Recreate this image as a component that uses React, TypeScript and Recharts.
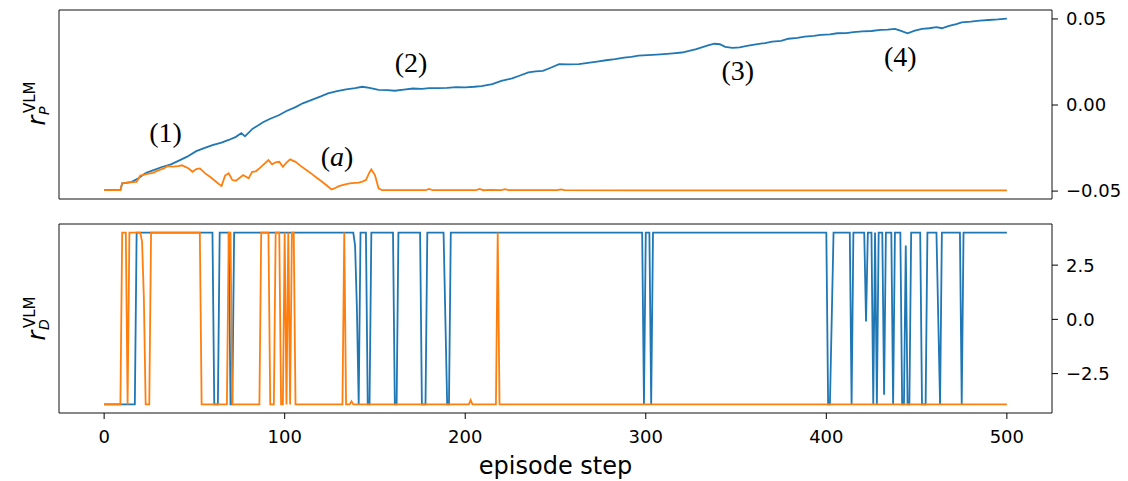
import React from 'react';
import { LineChart, Line, XAxis, YAxis, ReferenceArea, ReferenceDot } from 'recharts';

const BLUE = '#1f77b4';
const ORANGE = '#ff7f0e';
const FONT = 'DejaVu Sans';

// top panel, r_P^VLM against episode step
const rpBlue: [number, number][] = [
  [0, -0.0495], [5, -0.0495], [9, -0.0495], [10, -0.0455], [15, -0.0448], [19, -0.0425],
  [23, -0.0395], [27, -0.038], [32, -0.036], [37, -0.0345], [42, -0.032], [46, -0.03],
  [51, -0.0268], [55, -0.0252], [60, -0.0233], [65, -0.0218], [69, -0.0203], [73, -0.0185],
  [76, -0.0163], [78, -0.0182], [82, -0.014], [88, -0.01], [92, -0.008], [97, -0.0058],
  [101, -0.0035], [106, -0.0012], [110, 0.001], [115, 0.003], [120, 0.005], [124, 0.0068],
  [129, 0.008], [134, 0.0091], [139, 0.0098], [143, 0.0106], [147, 0.01], [152, 0.0088],
  [157, 0.0086], [161, 0.0083], [166, 0.009], [171, 0.0096], [176, 0.0094], [180, 0.0098],
  [185, 0.0098], [190, 0.01], [195, 0.0104], [200, 0.0103], [205, 0.0106], [209, 0.011],
  [212, 0.0116], [215, 0.0122], [220, 0.014], [226, 0.0155], [230, 0.017], [235, 0.019],
  [239, 0.0195], [243, 0.0198], [247, 0.0215], [252, 0.0237], [257, 0.0236], [263, 0.0238],
  [268, 0.0245], [273, 0.0252], [278, 0.026], [283, 0.0266], [288, 0.0275], [292, 0.028],
  [296, 0.0287], [301, 0.029], [306, 0.0293], [310, 0.0296], [315, 0.03], [320, 0.0305],
  [324, 0.0314], [328, 0.0325], [331, 0.0335], [334, 0.0345], [338, 0.0356], [341, 0.0353],
  [344, 0.0338], [348, 0.0332], [352, 0.0335], [356, 0.0343], [361, 0.0352], [366, 0.036],
  [370, 0.0368], [375, 0.0372], [379, 0.0385], [384, 0.039], [388, 0.0397], [393, 0.0402],
  [397, 0.0408], [402, 0.041], [406, 0.0417], [411, 0.0418], [415, 0.0423], [420, 0.0428],
  [425, 0.043], [430, 0.0436], [434, 0.0438], [438, 0.0442], [441, 0.0432], [445, 0.0417],
  [449, 0.0432], [453, 0.0442], [457, 0.0446], [461, 0.0452], [464, 0.0446], [468, 0.046],
  [472, 0.047], [475, 0.048], [480, 0.0484], [485, 0.049], [490, 0.0494], [495, 0.0497],
  [500, 0.0502],
];

const rpOrange: [number, number][] = [
  [0, -0.0495], [9, -0.0495], [10, -0.0455], [14, -0.045], [18, -0.0446], [20, -0.041],
  [24, -0.04], [27, -0.0394], [30, -0.038], [33, -0.0368], [35, -0.0355], [38, -0.0358],
  [41, -0.0355], [43, -0.035], [45, -0.0359], [47, -0.037], [49, -0.0388], [51, -0.0372],
  [53, -0.0368], [56, -0.0397], [59, -0.042], [62, -0.0446], [65, -0.0471], [67, -0.041],
  [69, -0.0397], [71, -0.0436], [73, -0.044], [77, -0.0407], [80, -0.0426], [82, -0.0388],
  [84, -0.0385], [86, -0.0368], [89, -0.0339], [91, -0.032], [93, -0.0345], [95, -0.0333],
  [97, -0.033], [99, -0.0359], [101, -0.0335], [103, -0.0316], [106, -0.033], [109, -0.0355],
  [112, -0.0378], [115, -0.04], [117, -0.0417], [120, -0.044], [123, -0.0465], [126, -0.049],
  [128, -0.0482], [130, -0.0471], [133, -0.0462], [136, -0.0455], [139, -0.0452], [141, -0.0451],
  [143, -0.0445], [145, -0.0436], [147, -0.039], [148, -0.0374], [150, -0.0407], [152, -0.0484],
  [154, -0.0495], [178, -0.0495], [180, -0.0487], [182, -0.0495], [206, -0.0495], [208, -0.0488],
  [210, -0.0495], [214, -0.0493], [220, -0.0494], [222, -0.0489], [224, -0.0495], [251, -0.0495],
  [253, -0.049], [255, -0.0495], [300, -0.0496], [500, -0.0496],
];

// bottom panel, r_D^VLM jumps between two levels
const HI = 4.0;
const LO = -3.92;

const rdBlue: [number, number][] = [
  [0, LO], [17, LO], [18, HI], [60, HI], [61, LO], [63, LO], [64, HI], [69, HI], [70, LO], [71, LO], [72, HI],
  [138, HI], [139, 3.4], [140, 0.5], [141, LO], [142, HI], [145, HI], [146, LO], [147, LO], [148, HI],
  [160, HI], [161, LO], [162, LO], [163, HI], [175, HI], [176, LO], [178, LO], [179, HI],
  [188, HI], [190, LO], [191, LO], [192, HI],
  [298, HI], [299, LO], [300, HI], [302, HI], [303, LO], [304, HI],
  [400, HI], [401, LO], [402, LO], [404, HI], [413, HI], [414, LO], [415, HI],
  [421, HI], [422, -0.1], [423, HI], [425, HI], [426, LO], [427, HI], [428, LO], [429, HI],
  [431, HI], [432, -3.47], [433, HI], [436, HI], [437, LO], [438, HI],
  [441, HI], [442, LO], [443, LO], [444, 3.41], [445, LO], [446, LO], [447, HI],
  [452, HI], [453, LO], [455, LO], [456, HI], [461, HI], [463, LO], [464, HI],
  [474, HI], [475, LO], [476, HI], [500, HI],
];

const rdOrange: [number, number][] = [
  [0, LO], [9, LO], [10, HI], [12, HI], [13, LO], [14, HI], [20, HI], [21, 3.6], [22, 1.0], [23, LO],
  [25, LO], [26, HI], [53, HI], [54, LO], [68, LO], [69, HI], [70, HI], [71, LO],
  [86, LO], [87, HI], [91, HI], [92, LO], [94, LO], [95, HI], [97, HI], [98, LO],
  [99, LO], [100, HI], [101, LO], [102, HI], [103, LO], [104, HI], [105, HI], [106, LO],
  [132, LO], [133, HI], [134, LO], [136, LO], [137, -3.78], [138, LO],
  [202, LO], [203, -3.72], [204, LO], [217, LO], [218, HI], [219, LO], [500, LO],
];

const xTicks = [0, 100, 200, 300, 400, 500];
const rpTicks = [-0.05, 0, 0.05];
const rdTicks = [-2.5, 0, 2.5];

const notes = [
  { text: '(1)', step: 34, value: -0.0169 },
  { text: '(2)', step: 170, value: 0.0238 },
  { text: '(3)', step: 351, value: 0.0192 },
  { text: '(4)', step: 441, value: 0.0273 },
  { text: '(a)', step: 129, value: -0.0308 },
];

const X_DOMAIN: [number, number] = [-25, 525];
const RP_DOMAIN: [number, number] = [-0.0546, 0.0552];
const RD_DOMAIN: [number, number] = [-4.316, 4.396];

const toPts = (arr: [number, number][]) => arr.map(([x, y]) => ({ x, y }));

const fmt = (digits: number) => (v: number) =>
  (v < 0 ? '\u2212' : '') + Math.abs(v).toFixed(digits);

const tickStyle = { fontFamily: FONT, fontSize: 18, fill: '#000' };

const renderNote = (p: any, text: string) => {
  const inner = text.slice(1, -1);
  const italic = /[a-z]/.test(inner);
  return (
    <text x={p.cx} y={p.cy} dy="0.27em" textAnchor="middle"
      style={{ fontFamily: 'Liberation Serif', fontSize: 28, fill: '#000' }}>
      <tspan>(</tspan>
      <tspan fontStyle={italic ? 'italic' : 'normal'}>{inner}</tspan>
      <tspan>)</tspan>
    </text>
  );
};

const YLabel = ({ cx, cy, sub }: { cx: number; cy: number; sub: string }) => (
  <g transform={`translate(${cx},${cy}) rotate(-90)`} fontFamily={FONT} fill="#000">
    <text x={-21.5} y={7} fontSize={24} fontStyle="italic">r</text>
    <text x={-9} y={-3.5} fontSize={15}>VLM</text>
    <text x={-11} y={11} fontSize={14} fontStyle="italic">{sub}</text>
  </g>
);

export default function App() {
  return (
    <div style={{ position: 'absolute', left: 0, top: 0, width: 1128, height: 481, background: '#fff' }}>
      <div style={{ position: 'absolute', left: 0, top: 0 }}>
        <LineChart width={1128} height={210} margin={{ top: 10, right: 6, bottom: 11, left: 59 }}>
          <XAxis dataKey="x" type="number" domain={X_DOMAIN} allowDataOverflow hide />
          <YAxis orientation="right" width={70} type="number" domain={RP_DOMAIN} allowDataOverflow
            ticks={rpTicks} tickFormatter={fmt(2)} axisLine={false} tickSize={6} tickMargin={8}
            tickLine={{ stroke: '#000' }} tick={tickStyle} />
          <ReferenceArea x1={X_DOMAIN[0]} x2={X_DOMAIN[1]} y1={RP_DOMAIN[0]} y2={RP_DOMAIN[1]}
            fill="none" fillOpacity={0} stroke="#111" strokeWidth={1} />
          <Line data={toPts(rpBlue)} dataKey="y" type="linear" stroke={BLUE} strokeWidth={1.8}
            dot={false} activeDot={false} isAnimationActive={false} />
          <Line data={toPts(rpOrange)} dataKey="y" type="linear" stroke={ORANGE} strokeWidth={1.8}
            dot={false} activeDot={false} isAnimationActive={false} />
          {notes.map((n) => (
            <ReferenceDot key={n.text} x={n.step} y={n.value} r={0}
              shape={(p: any) => renderNote(p, n.text)} />
          ))}
        </LineChart>
      </div>
      <div style={{ position: 'absolute', left: 0, top: 214 }}>
        <LineChart width={1128} height={267} margin={{ top: 10, right: 6, bottom: 0, left: 59 }}>
          <XAxis dataKey="x" type="number" domain={X_DOMAIN} allowDataOverflow ticks={xTicks}
            height={68} axisLine={false} tickSize={6} tickMargin={11} tickLine={{ stroke: '#000' }}
            tick={tickStyle}
            label={{ value: 'episode step', position: 'insideBottom', offset: 7,
              style: { fontFamily: FONT, fontSize: 24, fill: '#000' } }} />
          <YAxis orientation="right" width={70} type="number" domain={RD_DOMAIN} allowDataOverflow
            ticks={rdTicks} tickFormatter={fmt(1)} axisLine={false} tickSize={6} tickMargin={8}
            tickLine={{ stroke: '#000' }} tick={tickStyle} />
          <ReferenceArea x1={X_DOMAIN[0]} x2={X_DOMAIN[1]} y1={RD_DOMAIN[0]} y2={RD_DOMAIN[1]}
            fill="none" fillOpacity={0} stroke="#111" strokeWidth={1} />
          <Line data={toPts(rdBlue)} dataKey="y" type="linear" stroke={BLUE} strokeWidth={1.8}
            dot={false} activeDot={false} isAnimationActive={false} />
          <Line data={toPts(rdOrange)} dataKey="y" type="linear" stroke={ORANGE} strokeWidth={1.8}
            dot={false} activeDot={false} isAnimationActive={false} />
        </LineChart>
      </div>
      <svg width={1128} height={481} style={{ position: 'absolute', left: 0, top: 0, pointerEvents: 'none' }}>
        <YLabel cx={38} cy={104} sub="P" />
        <YLabel cx={38} cy={319} sub="D" />
      </svg>
    </div>
  );
}
